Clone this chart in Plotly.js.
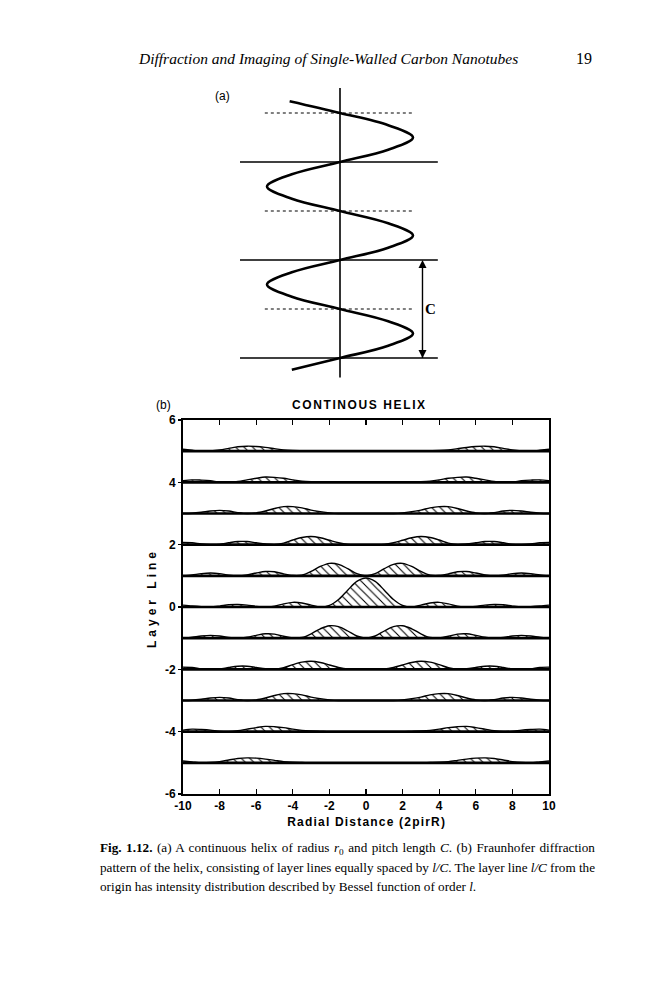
<!DOCTYPE html>
<html>
<head>
<meta charset="utf-8">
<script src="https://cdn.plot.ly/plotly-3.0.1.min.js"></script>
<style>
html,body{margin:0;padding:0;background:#fff;}
#chart{width:659px;height:1000px;}
</style>
</head>
<body>
<div id="chart"></div>
<script>
// ---------- Panel (b) data: layer-line intensity profiles ----------
const radialX = [-10,-9.5,-9,-8.5,-8,-7.5,-7,-6.5,-6,-5.5,-5,-4.5,-4,-3.5,-3,-2.5,-2,-1.5,-1,-0.5,0,0.5,1,1.5,2,2.5,3,3.5,4,4.5,5,5.5,6,6.5,7,7.5,8,8.5,9,9.5,10];
const layerNumbers = [5,4,3,2,1,0,-1,-2,-3,-4,-5];
const intensityL0 = [0.06,0.03,0.01,0.00,0.03,0.07,0.08,0.06,0.02,0.00,0.03,0.10,0.15,0.13,0.06,0.00,0.05,0.24,0.54,0.82,0.93,0.82,0.54,0.24,0.05,0.00,0.06,0.13,0.15,0.10,0.03,0.00,0.02,0.06,0.08,0.07,0.03,0.00,0.01,0.03,0.06];
const intensityL1 = [0.00,0.03,0.07,0.09,0.07,0.02,0.00,0.03,0.09,0.14,0.13,0.06,0.01,0.02,0.14,0.30,0.40,0.37,0.23,0.07,0.00,0.07,0.23,0.37,0.40,0.30,0.14,0.02,0.01,0.06,0.13,0.14,0.09,0.03,0.00,0.02,0.07,0.09,0.07,0.03,0.00];
const intensityL2 = [0.07,0.06,0.02,0.00,0.01,0.06,0.10,0.10,0.06,0.02,0.00,0.05,0.15,0.23,0.26,0.22,0.14,0.06,0.01,0.00,0.00,0.00,0.01,0.06,0.14,0.22,0.26,0.23,0.15,0.05,0.00,0.02,0.06,0.10,0.10,0.06,0.01,0.00,0.02,0.06,0.07];
const intensityL3 = [0.00,0.01,0.04,0.08,0.10,0.08,0.03,0.00,0.02,0.08,0.16,0.22,0.22,0.18,0.11,0.06,0.02,0.00,0.00,0.00,0.00,0.00,0.00,0.00,0.02,0.06,0.11,0.18,0.22,0.22,0.16,0.08,0.02,0.00,0.03,0.08,0.10,0.08,0.04,0.01,0.00];
const intensityL4 = [0.05,0.08,0.07,0.05,0.01,0.00,0.03,0.08,0.13,0.17,0.16,0.13,0.08,0.04,0.02,0.01,0.00,0.00,0.00,0.00,0.00,0.00,0.00,0.00,0.00,0.01,0.02,0.04,0.08,0.13,0.16,0.17,0.13,0.08,0.03,0.00,0.01,0.05,0.07,0.08,0.05];
const intensityL5 = [0.06,0.03,0.00,0.01,0.04,0.09,0.14,0.16,0.15,0.12,0.08,0.04,0.02,0.01,0.00,0.00,0.00,0.00,0.00,0.00,0.00,0.00,0.00,0.00,0.00,0.00,0.00,0.01,0.02,0.04,0.08,0.12,0.15,0.16,0.14,0.09,0.04,0.01,0.00,0.03,0.06];
const xTickVals = [-10,-8,-6,-4,-2,0,2,4,6,8,10];
const xTickLabels = ["-10","-8","-6","-4","-2","0","2","4","6","8","10"];
const yTickVals = [-6,-4,-2,0,2,4,6];
const yTickLabels = ["-6","-4","-2","0","2","4","6"];

// ---------- Panel (a) data: projected helix (x in radii, z in pitch lengths) ----------
const helixZ = [2.62,2.5,2.375,2.25,2.125,2.0,1.875,1.75,1.625,1.5,1.375,1.25,1.125,1.0,0.875,0.75,0.625,0.5,0.375,0.25,0.125,0,-0.12];
const helixX = [-0.69,0,0.66,1,0.66,0,-0.66,-1,-0.66,0,0.66,1,0.66,0,-0.66,-1,-0.66,0,0.66,1,0.66,0,-0.66];
const solidLevels = [0,1,2];
const dottedLevels = [0.5,1.5,2.5];
const pitchMarks = [0,1];

// ---------- Text ----------
const headerText = "Diffraction and Imaging of Single-Walled Carbon Nanotubes";
const pageNumber = "19";
const panelTitle = "CONTINOUS HELIX";
const xTitle = "Radial Distance (2pirR)";
const yTitle = "Layer Line";
const captionLines = [
  "<b>Fig. 1.12.</b> (a) A continuous helix of radius <i>r</i><sub>0</sub> and pitch length <i>C</i>. (b) Fraunhofer diffraction",
  "pattern of the helix, consisting of layer lines equally spaced by <i>l/C</i>. The layer line <i>l/C</i> from the",
  "origin has intensity distribution described by Bessel function of order <i>l</i>."
];

// ---------- build ----------
const W = 659, H = 1000;
const px = x => x / W;
const py = y => 1 - y / H;
const profiles = {0:intensityL0,1:intensityL1,2:intensityL2,3:intensityL3,4:intensityL4,5:intensityL5};

const traces = [];
layerNumbers.forEach(l => {
  const prof = profiles[Math.abs(l)];
  traces.push({
    x: radialX, y: radialX.map(() => l), type:'scatter', mode:'lines',
    line:{color:'#000', width:2.6}, hoverinfo:'skip', showlegend:false, xaxis:'x', yaxis:'y'
  });
  traces.push({
    x: radialX, y: prof.map(v => l + v), type:'scatter', mode:'lines',
    line:{color:'#000', width:1.4, shape:'spline', smoothing:0.9},
    fill:'tonexty', fillcolor:'rgba(255,255,255,0)',
    fillpattern:{shape:'\\', fgcolor:'#000', bgcolor:'rgba(255,255,255,0)', size:6, solidity:0.18},
    hoverinfo:'skip', showlegend:false, xaxis:'x', yaxis:'y'
  });
});
traces.push({
  x: helixX, y: helixZ, type:'scatter', mode:'lines',
  line:{color:'#000', width:2.6, shape:'spline', smoothing:1},
  hoverinfo:'skip', showlegend:false, xaxis:'x2', yaxis:'y2'
});
// pitch-length double arrow
traces.push({
  x: pitchMarks.map(() => 1.13), y: pitchMarks, type:'scatter', mode:'lines+markers',
  line:{color:'#000', width:1.4},
  marker:{symbol:['arrow-down','arrow-up'], size:8, color:'#000'},
  hoverinfo:'skip', showlegend:false, xaxis:'x2', yaxis:'y2'
});

const shapes = [];
solidLevels.forEach(z => shapes.push({type:'line', xref:'x2', yref:'y2', x0:-1.37, x1:1.34, y0:z, y1:z, line:{color:'#000', width:1.6}}));
dottedLevels.forEach(z => shapes.push({type:'line', xref:'x2', yref:'y2', x0:-1.03, x1:1.0, y0:z, y1:z, line:{color:'#000', width:1.2, dash:'dot'}}));
shapes.push({type:'line', xref:'x2', yref:'y2', x0:0, x1:0, y0:-0.2, y1:2.755, line:{color:'#000', width:1.6}});

const serif = "Liberation Serif, Times New Roman, serif";
const sans = "Liberation Sans, Arial, sans-serif";
const narrow = "Liberation Sans Narrow, Arial Narrow, Liberation Sans, sans-serif";

const annotations = [
  {text:'<i>'+headerText+'</i>', xref:'paper', yref:'paper', x:px(136), y:py(58), xanchor:'left', yanchor:'middle', showarrow:false, font:{family:serif, size:15.5, color:'#000'}},
  {text:pageNumber, xref:'paper', yref:'paper', x:px(594), y:py(58), xanchor:'right', yanchor:'middle', showarrow:false, font:{family:serif, size:16, color:'#000'}},
  {text:'(a)', xref:'paper', yref:'paper', x:px(222), y:py(96), xanchor:'center', yanchor:'middle', showarrow:false, font:{family:sans, size:12, color:'#000'}},
  {text:'(b)', xref:'paper', yref:'paper', x:px(163), y:py(405), xanchor:'center', yanchor:'middle', showarrow:false, font:{family:sans, size:12, color:'#000'}},
  {text:panelTitle, xref:'paper', yref:'paper', x:px(360), y:py(405), xanchor:'center', yanchor:'middle', showarrow:false, font:{family:sans, size:12, color:'#000', weight:'bold'}},
  {text:xTitle, xref:'paper', yref:'paper', x:px(366), y:py(822), xanchor:'center', yanchor:'middle', showarrow:false, font:{family:sans, size:12, color:'#000', weight:'bold'}},
  {text:yTitle, xref:'paper', yref:'paper', x:px(152), y:py(598), xanchor:'center', yanchor:'middle', textangle:-90, showarrow:false, font:{family:sans, size:12, color:'#000', weight:'bold'}},
  {text:'<b>C</b>', xref:'x2', yref:'y2', x:1.24, y:0.5, xanchor:'center', yanchor:'middle', showarrow:false, font:{family:serif, size:15, color:'#000'}}
];
captionLines.forEach((t, i) => annotations.push({
  text:t, xref:'paper', yref:'paper', x:px(98), y:py(848 + i*19), xanchor:'left', yanchor:'middle', align:'left', showarrow:false,
  font:{family:serif, size:13.2, color:'#000'}
}));

const layout = {
  width:W, height:H, margin:{l:0,r:0,t:0,b:0}, paper_bgcolor:'#fff', plot_bgcolor:'rgba(0,0,0,0)', showlegend:false,
  xaxis:{domain:[183/W, 549/W], range:[-10,10], tickvals:xTickVals, ticktext:xTickLabels, ticks:'inside', ticklen:5, tickwidth:1.4, tickcolor:'#000',
         showline:true, linewidth:2, linecolor:'#000', mirror:'ticks', showgrid:false, zeroline:false, anchor:'y',
         tickfont:{family:narrow, size:12, color:'#000', weight:'bold'}},
  yaxis:{domain:[1-794/H, 1-420/H], range:[-6,6], tickvals:yTickVals, ticktext:yTickLabels, ticks:'outside', ticklen:3, tickwidth:1.4, tickcolor:'#000',
         showline:true, linewidth:2, linecolor:'#000', mirror:true, showgrid:false, zeroline:false, anchor:'x',
         tickfont:{family:narrow, size:12, color:'#000', weight:'bold'}},
  xaxis2:{domain:[230/W, 450/W], range:[-1.5068,1.5068], visible:false, anchor:'y2'},
  yaxis2:{domain:[1-390/H, 1-80/H], range:[-0.3265,2.8367], visible:false, anchor:'x2'},
  shapes:shapes, annotations:annotations
};

Plotly.newPlot('chart', traces, layout, {displayModeBar:false, staticPlot:true}).then(() => {
  const spacing = {};
  spacing[panelTitle] = '1.6px';
  spacing[xTitle] = '1.2px';
  spacing[yTitle] = '4px';
  const justifyWidth = 495;
  document.querySelectorAll('.annotation-text').forEach(el => {
    const t = el.getAttribute('data-unformatted');
    if (spacing[t]) el.style.letterSpacing = spacing[t];
    const idx = captionLines.indexOf(t);
    if (idx === 0 || idx === 1) {
      const w = el.getComputedTextLength();
      const plain = el.textContent;
      const gaps = (plain.match(/ /g) || []).length;
      if (gaps > 0) el.style.wordSpacing = ((justifyWidth - w) / gaps).toFixed(2) + 'px';
    }
  });
});
</script>
</body>
</html>
